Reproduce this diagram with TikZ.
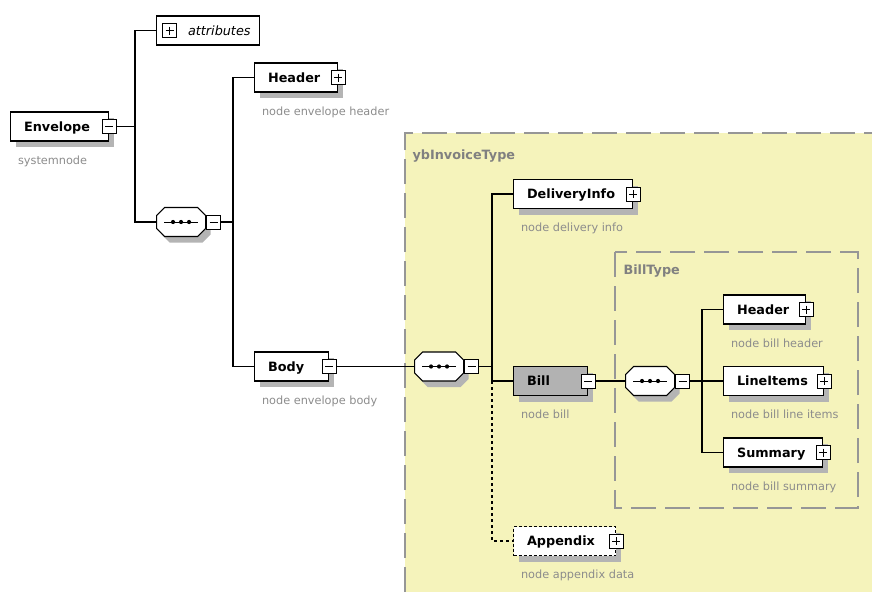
\documentclass[tikz,border=0pt]{standalone}
\usepackage{fontspec}
\setmainfont{DejaVu Sans}
\usetikzlibrary{calc,positioning,shadows}

\definecolor{shadowgray}{RGB}{180,180,180}
\definecolor{note}{RGB}{140,140,140}
\definecolor{zone}{RGB}{245,243,187}
\definecolor{zoneedge}{RGB}{150,150,150}
\definecolor{zonetext}{RGB}{128,128,128}
\definecolor{billfill}{RGB}{178,178,178}

\newcommand\namefont{\fontsize{12.8}{15}\selectfont\bfseries}
\newcommand\itemfont{\fontsize{12.8}{15}\selectfont\itshape}
\newcommand\notefont{\fontsize{11.3}{13}\selectfont}

\begin{document}
\begin{tikzpicture}[
    x=1pt, y=-1pt,
    line width=1.1pt,
    elem/.style={draw, fill=white, anchor=west, inner xsep=13.5pt, inner ysep=0pt,
      minimum height=29pt, text height=9.3pt, text depth=0pt, align=left,
      text width=#1, font=\namefont,
      drop shadow={shadow xshift=5pt, shadow yshift=-6pt, fill=shadowgray, opacity=1}},
    seq/.style={anchor=west, minimum width=49pt, minimum height=29pt, inner sep=0pt},
    tgl/.style={draw, fill=white, minimum size=14pt, inner sep=0pt, line width=1pt},
    minus/.style={tgl, path picture={
      \draw[line width=1pt] ($(path picture bounding box.west)+(3,0)$)
        -- ($(path picture bounding box.east)+(-3,0)$);}},
    plus/.style={tgl, path picture={
      \draw[line width=1pt] ($(path picture bounding box.west)+(3,0)$)
        -- ($(path picture bounding box.east)+(-3,0)$)
        ($(path picture bounding box.north)+(0,3)$)
        -- ($(path picture bounding box.south)+(0,-3)$);}},
    note/.style={anchor=base west, inner sep=0pt, font=\notefont, text=note},
    zonelabel/.style={anchor=base west, inner sep=0pt, font=\namefont, text=zonetext},
    zoneline/.style={draw=zoneedge, line width=1.5pt, dash pattern=on 25pt off 9pt},
  ]
  \useasboundingbox (0,0) rectangle (872,592);

  % Type areas
  \fill[zone] (405,133) rectangle (872,592);
  \draw[zoneline] (405,592) -- (405,133) -- (872,133);
  \draw[zoneline] (615,252) rectangle (858,508);
  \node[zonelabel] (ybLbl) at (412,159) {ybInvoiceType};
  \node[zonelabel] (btLbl) at (623,274) {BillType};

  % Sequence compositors (octagons with shadow)
  \node[seq] (seq1) at (156,222) {};
  \node[seq] (seq2) at (414,366.5) {};
  \node[seq] (seq3) at (625,381) {};
  \foreach \s in {seq1,seq2,seq3} {
    \coordinate (o) at ($(\s.center)+(5,6)$);
    \fill[shadowgray] ($(o)+(-24.5,-6.5)$) -- ($(o)+(-16.5,-14.5)$) -- ($(o)+(16.5,-14.5)$)
      -- ($(o)+(24.5,-6.5)$) -- ($(o)+(24.5,6.5)$) -- ($(o)+(16.5,14.5)$)
      -- ($(o)+(-16.5,14.5)$) -- ($(o)+(-24.5,6.5)$) -- cycle;
    \coordinate (o) at (\s.center);
    \filldraw[fill=white] ($(o)+(-24.5,-6.5)$) -- ($(o)+(-16.5,-14.5)$) -- ($(o)+(16.5,-14.5)$)
      -- ($(o)+(24.5,-6.5)$) -- ($(o)+(24.5,6.5)$) -- ($(o)+(16.5,14.5)$)
      -- ($(o)+(-16.5,14.5)$) -- ($(o)+(-24.5,6.5)$) -- cycle;
    \draw[line width=1pt] ($(o)+(-17,0)$) -- ($(o)+(17,0)$);
    \foreach \d in {-8,0,8} \fill ($(o)+(\d,0)$) circle (2.1pt);
  }
  \node[minus, anchor=west] (seq1T) at (seq1.east) {};
  \node[minus, anchor=west] (seq2T) at (seq2.east) {};
  \node[minus, anchor=west] (seq3T) at (seq3.east) {};

  % Envelope level
  \node[elem=71pt] (env) at (10,126.5) {Envelope};
  \node[minus] (envT) at (env.east) {};
  \node[note] (envN) at ($(env.south west)+(7.5,22.5)$) {systemnode};

  \node[draw, fill=white, anchor=west, minimum width=103pt, minimum height=29pt,
    inner xsep=9pt, inner ysep=0pt, text width=85pt, align=right,
    text height=9.3pt, text depth=0pt, font=\itemfont] (attr) at (156,30.5) {attributes};
  \node[plus] (attrT) at ($(attr.west)+(13.5,0)$) {};

  \node[elem=56pt] (hdr) at (254,77.5) {Header};
  \node[plus] (hdrT) at (hdr.east) {};
  \node[note] (hdrN) at ($(hdr.south west)+(7.5,22.5)$) {node envelope header};

  \node[elem=47pt] (body) at (254,366.5) {Body};
  \node[minus] (bodyT) at (body.east) {};
  \node[note] (bodyN) at ($(body.south west)+(7.5,22.5)$) {node envelope body};

  % ybInvoiceType content
  \node[elem=92pt] (dlv) at (513,194) {DeliveryInfo};
  \node[plus] (dlvT) at (dlv.east) {};
  \node[note] (dlvN) at ($(dlv.south west)+(7.5,22.5)$) {node delivery info};

  \node[elem=47pt, fill=billfill] (bill) at (513,381) {Bill};
  \node[minus] (billT) at (bill.east) {};
  \node[note] (billN) at ($(bill.south west)+(7.5,22.5)$) {node bill};

  \node[elem=75pt, dash pattern=on 3pt off 2pt] (appx) at (513,541) {Appendix};
  \node[plus] (appxT) at (appx.east) {};
  \node[note] (appxN) at ($(appx.south west)+(7.5,22.5)$) {node appendix data};

  % BillType content
  \node[elem=55pt] (bhdr) at (723,309.5) {Header};
  \node[plus] (bhdrT) at (bhdr.east) {};
  \node[note] (bhdrN) at ($(bhdr.south west)+(7.5,22.5)$) {node bill header};

  \node[elem=73pt] (bitems) at (723,381) {LineItems};
  \node[plus] (bitemsT) at (bitems.east) {};
  \node[note] (bitemsN) at ($(bitems.south west)+(7.5,22.5)$) {node bill line items};

  \node[elem=72pt] (bsum) at (723,452.5) {Summary};
  \node[plus] (bsumT) at (bsum.east) {};
  \node[note] (bsumN) at ($(bsum.south west)+(7.5,22.5)$) {node bill summary};

  % Connectors
  \coordinate (b1) at (135,126.5);
  \draw (envT.east) -- (b1);
  \draw (attr.west) -| (b1) |- ($(seq1.west)+(0.6,0)$);

  \coordinate (b2) at (233,222);
  \draw (seq1T.east) -- (b2);
  \draw (hdr.west) -| (b2) |- (body.west);
  \draw (bodyT.east) -- ($(seq2.west)+(0.6,0)$);

  \coordinate (b3) at (492,366.5);
  \draw (seq2T.east) -- (b3);
  \draw (dlv.west) -| (b3) |- (bill.west);
  \draw[dash pattern=on 3pt off 3pt] (bill.west -| b3) |- (appx.west);
  \draw (billT.east) -- ($(seq3.west)+(0.6,0)$);

  \coordinate (b4) at (702,381);
  \draw (seq3T.east) -- (b4);
  \draw (bhdr.west) -| (b4) |- (bsum.west);
  \draw (b4) -- (bitems.west);
\end{tikzpicture}
\end{document}
